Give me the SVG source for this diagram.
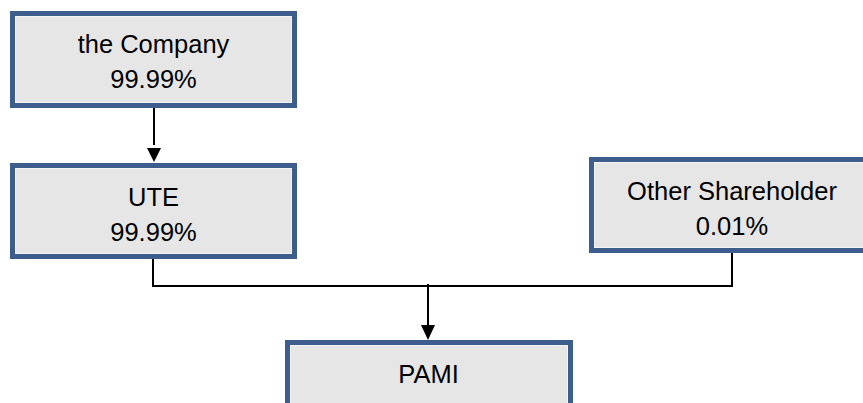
<svg xmlns="http://www.w3.org/2000/svg" width="863" height="403" viewBox="0 0 863 403">
<style>
.box{fill:#E6E6E6;stroke:#3D5E8D;stroke-width:5}
.inner{fill:none;stroke:#F4F4F4;stroke-width:1}
.t{font-family:"Liberation Sans",Arial,sans-serif;font-size:25.5px;fill:#000;text-anchor:middle}
.c{fill:none;stroke:#000;stroke-width:2}
</style>
<defs>
<marker id="ah" markerWidth="14" markerHeight="14" refX="7" refY="14" orient="auto-start-reverse" markerUnits="userSpaceOnUse" viewBox="0 0 14 14">
<path d="M0,0 L14,0 L7,14 Z" fill="#000"/>
</marker>
</defs>
<rect width="863" height="403" fill="#fff"/>
<g id="connectors">
<line class="c" x1="154" y1="108" x2="154" y2="145"/>
<path d="M147,148 L161,148 L154,162 Z" fill="#000"/>
<polyline class="c" points="153,259 153,286 732,286 732,253"/>
<line class="c" x1="428" y1="284" x2="428" y2="326"/>
<path d="M421,325 L435,325 L428,340 Z" fill="#000"/>
</g>
<g id="company">
<rect class="box" x="12.5" y="13.5" width="282" height="92"/>
<rect class="inner" x="15.5" y="16.5" width="276" height="86"/>
<text class="t" x="153.5" y="53">the Company</text>
<text class="t" x="153.5" y="88">99.99%</text>
</g>
<g id="ute">
<rect class="box" x="12.5" y="165.5" width="282" height="91"/>
<rect class="inner" x="15.5" y="168.5" width="276" height="85"/>
<text class="t" x="153.5" y="206">UTE</text>
<text class="t" x="153.5" y="241">99.99%</text>
</g>
<g id="other">
<rect class="box" x="591.5" y="159.5" width="282" height="91"/>
<rect class="inner" x="594.5" y="162.5" width="276" height="85"/>
<text class="t" x="732" y="200">Other Shareholder</text>
<text class="t" x="732" y="235">0.01%</text>
</g>
<g id="pami">
<rect class="box" x="287.5" y="342.5" width="283" height="92"/>
<rect class="inner" x="290.5" y="345.5" width="277" height="86"/>
<text class="t" x="428.5" y="383">PAMI</text>
</g>
</svg>
